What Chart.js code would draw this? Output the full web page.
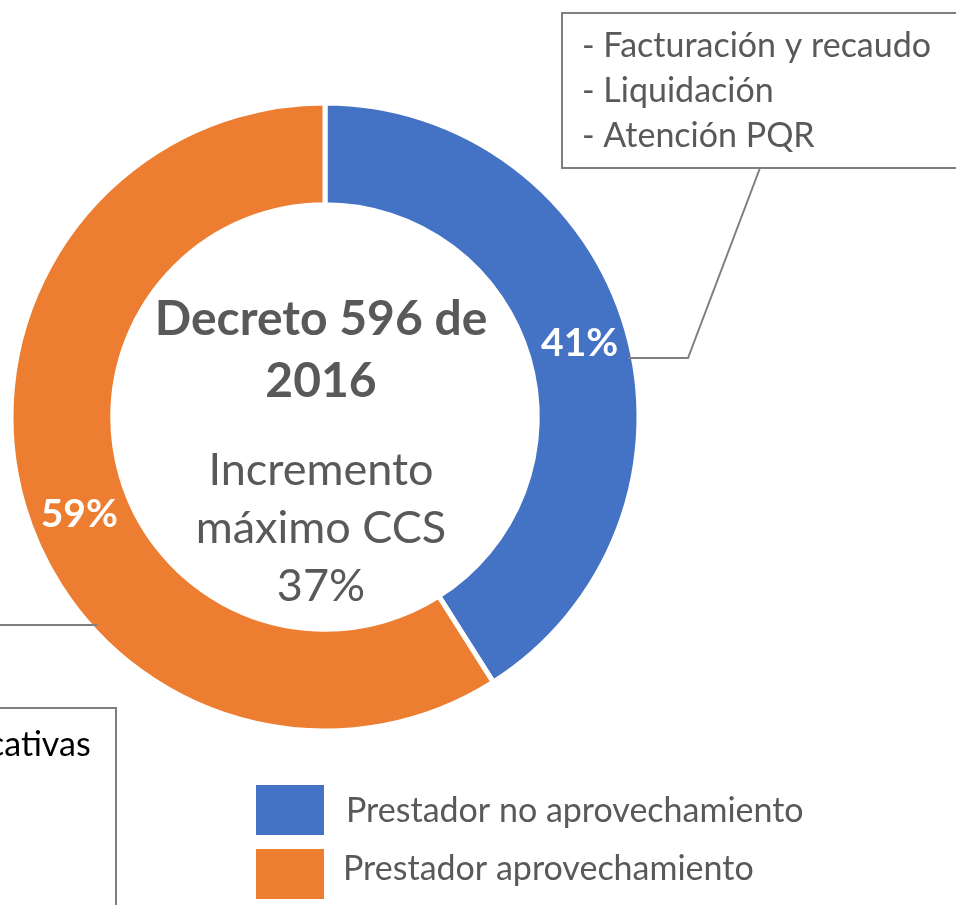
<!DOCTYPE html>
<html>
<head>
<meta charset="utf-8">
<script src="https://cdn.jsdelivr.net/npm/chart.js@4.4.1/dist/chart.umd.min.js"></script>
<style>
  html, body { margin: 0; padding: 0; background: #fff; overflow: hidden; }
  #wrap { position: relative; width: 956px; height: 905px; }
</style>
</head>
<body>
<div id="wrap"><canvas id="donut" width="956" height="905"></canvas></div>
<script>
// data
const categories = ['Prestador no aprovechamiento', 'Prestador aprovechamiento'];
const shares = [41, 59];
const sliceColors = ['#4472C4', '#ED7D31'];
const centerTitle = ['Decreto 596 de', '2016'];
const centerNote = ['Incremento', 'máximo CCS', '37%'];
const blueNotes = ['- Facturación y recaudo', '- Liquidación', '- Atención PQR'];
const orangeNotes = ['cativas'];

const FONT = 'Lato, "Open Sans", sans-serif';
const GREY = '#595959';
const LINE = '#7f7f7f';
// small nudges so the % labels sit where the original puts them
const labelNudge = [[2, 0], [7, 24]];

const extras = {
    id: 'extras',
    afterDraw(chart) {
        const ctx = chart.ctx;
        const arcs = chart.getDatasetMeta(0).data;
        const cx = arcs[0].x, cy = arcs[0].y;
        ctx.save();

        // percent labels on the ring
        ctx.font = 'bold 39px ' + FONT;
        ctx.fillStyle = '#fff';
        ctx.textAlign = 'center';
        ctx.textBaseline = 'middle';
        arcs.forEach((arc, i) => {
            const p = arc.getProps(['startAngle', 'endAngle', 'innerRadius', 'outerRadius'], true);
            const mid = (p.startAngle + p.endAngle) / 2;
            const r = (p.innerRadius + p.outerRadius) / 2;
            ctx.fillText(shares[i] + '%',
                cx + Math.cos(mid) * r + labelNudge[i][0],
                cy + Math.sin(mid) * r + labelNudge[i][1]);
        });

        // center text
        ctx.fillStyle = GREY;
        ctx.font = 'bold 48px ' + FONT;
        ctx.fillText(centerTitle[0], cx - 4, 320);
        ctx.fillText(centerTitle[1], cx - 4, 382);
        ctx.font = '45px ' + FONT;
        centerNote.forEach((t, i) => ctx.fillText(t, cx - 4, 470 + i * 58));

        // callout boxes
        ctx.strokeStyle = LINE;
        ctx.lineWidth = 2;
        ctx.strokeRect(562, 13, 420, 155);
        ctx.beginPath();
        ctx.moveTo(760, 168);
        ctx.lineTo(688, 358);
        ctx.lineTo(628, 358);
        ctx.stroke();

        ctx.strokeRect(-10, 708, 126, 220);
        ctx.beginPath();
        ctx.moveTo(97, 625);
        ctx.lineTo(0, 625);
        ctx.stroke();

        ctx.textAlign = 'left';
        ctx.font = '34px ' + FONT;
        blueNotes.forEach((t, i) => ctx.fillText(t, 582, 46 + i * 45));
        ctx.fillStyle = '#000';
        orangeNotes.forEach((t, i) => ctx.fillText(t, -12, 745 + i * 45));

        // legend
        categories.forEach((c, i) => {
            ctx.fillStyle = sliceColors[i];
            ctx.fillRect(256, 785 + i * 64, 68, 50);
            ctx.fillStyle = GREY;
            ctx.fillText(c, i === 0 ? 346 : 343, 811 + i * 58);
        });
        ctx.restore();
    }
};

new Chart(document.getElementById('donut'), {
    type: 'doughnut',
    data: {
        labels: categories,
        datasets: [{
            data: shares,
            backgroundColor: sliceColors,
            borderColor: '#ffffff',
            borderWidth: 5
        }]
    },
    options: {
        responsive: false,
        animation: false,
        events: [],
        radius: 314,
        cutout: 218,
        layout: { padding: { left: 0, right: 306, top: 0, bottom: 71 } },
        plugins: {
            legend: { display: false },
            tooltip: { enabled: false }
        }
    },
    plugins: [extras]
});
</script>
</body>
</html>
